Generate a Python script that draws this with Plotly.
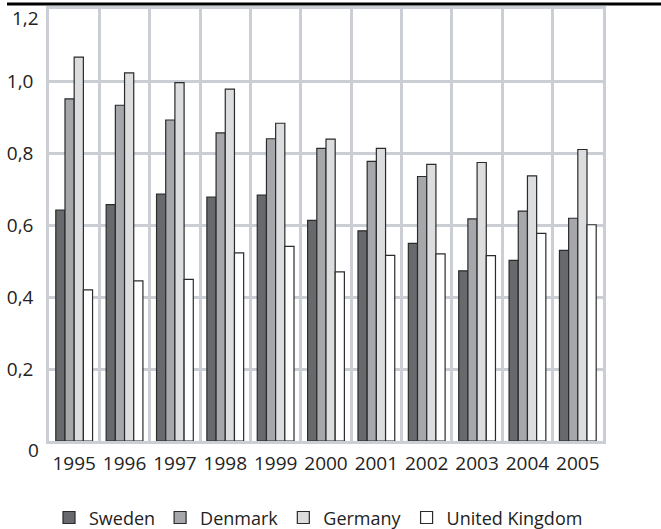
import plotly.graph_objects as go

years = ["1995", "1996", "1997", "1998", "1999", "2000", "2001", "2002", "2003", "2004", "2005"]
sweden = [0.642, 0.657, 0.686, 0.678, 0.683, 0.613, 0.584, 0.549, 0.473, 0.502, 0.530]
denmark = [0.951, 0.933, 0.892, 0.856, 0.840, 0.813, 0.777, 0.735, 0.617, 0.639, 0.619]
germany = [1.067, 1.023, 0.996, 0.978, 0.883, 0.839, 0.813, 0.769, 0.774, 0.737, 0.810]
united_kingdom = [0.420, 0.445, 0.449, 0.523, 0.541, 0.470, 0.516, 0.520, 0.515, 0.577, 0.601]

y_tickvals = [0, 0.2, 0.4, 0.6, 0.8, 1.0, 1.2]
y_ticktext = ["0", "0,2", "0,4", "0,6", "0,8", "1,0", "1,2"]

series = [
    ("Sweden", sweden, "#68696c"),
    ("Denmark", denmark, "#a6a7aa"),
    ("Germany", germany, "#dcdddf"),
    ("United Kingdom", united_kingdom, "#ffffff"),
]

FONT = "Open Sans"
GRID = "#cbced5"
TXT = "#222222"

fig = go.Figure()
for name, vals, col in series:
    fig.add_trace(go.Bar(
        x=years, y=vals, name=name,
        marker=dict(color=col, line=dict(color="#2b2b2b", width=1.2)),
    ))

# the end tick labels (0 and 1,2) sit slightly below their gridlines in the reference
shown_text = [""] + y_ticktext[1:-1] + [""]

fig.update_layout(
    width=661, height=529,
    margin=dict(l=49, r=58, t=9, b=88, autoexpand=False),
    paper_bgcolor="white", plot_bgcolor="white",
    barmode="group", bargap=0.27, bargroupgap=0,
    font=dict(family=FONT, size=18, color=TXT),
    showlegend=True,
    legend=dict(
        orientation="h", x=0, xanchor="left", y=-0.135, yanchor="top",
        font=dict(family=FONT, size=18, color=TXT),
        bgcolor="rgba(0,0,0,0)", traceorder="normal",
    ),
    xaxis=dict(
        type="category", tickson="boundaries", tickangle=0, automargin=False,
        showgrid=True, gridcolor=GRID, gridwidth=2.5,
        showline=True, linecolor=GRID, linewidth=2.5, mirror=True,
        ticks="", ticklabelstandoff=3,
        tickfont=dict(family=FONT, size=19, color=TXT),
    ),
    yaxis=dict(
        range=[0, 1.2005], tickvals=y_tickvals, ticktext=shown_text, automargin=False,
        showgrid=True, gridcolor=GRID, gridwidth=2.5,
        showline=True, linecolor=GRID, linewidth=2.5, mirror=True,
        zeroline=False, ticks="", ticklabelstandoff=9,
        tickfont=dict(family=FONT, size=19, color=TXT),
    ),
)

for idx in (0, len(y_tickvals) - 1):
    fig.add_annotation(x=0, xref="paper", y=y_tickvals[idx], yref="y",
                       text=y_ticktext[idx], showarrow=False,
                       xanchor="right", yanchor="middle", xshift=-8, yshift=-9,
                       font=dict(family=FONT, size=19, color=TXT))

fig.add_shape(type="line", xref="paper", yref="paper",
              x0=-0.0758, x1=1.11, y0=1.0116, y1=1.0116,
              line=dict(color="black", width=3))

fig.write_html("out.html",
               config={"displayModeBar": False},
               post_script="document.body.style.margin='0';document.body.style.padding='0';")
